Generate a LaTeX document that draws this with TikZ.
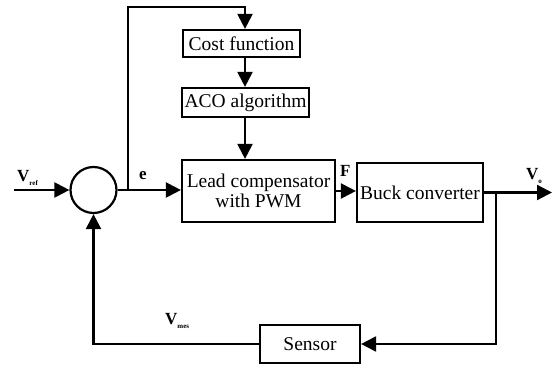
\documentclass[tikz,border=0pt]{standalone}
\usepackage{fontspec}
\setmainfont{Liberation Serif}
\usetikzlibrary{arrows.meta, positioning, calc}
\newcommand{\vsig}[1]{\textbf{V}\raisebox{-0.4ex}{\fontsize{7}{7}\selectfont\bfseries #1}}

\begin{document}
\begin{tikzpicture}[x=1pt, y=-1pt,
  block/.style={draw, line width=2.2pt, inner sep=0pt, font=\fontsize{19.5}{20}\selectfont, align=center},
  sumnode/.style={draw, circle, line width=2.2pt, minimum size=46pt, inner sep=0pt},
  arr/.style={line width=2.2pt, -{Triangle[length=15pt, width=15pt]}},
  lbl/.style={font=\fontsize{17}{17}\selectfont\bfseries, inner sep=0pt}]
  \useasboundingbox (0,0) rectangle (552,366);

  % Summing junction and blocks
  \node[sumnode] (sum) at (93.5,190) {};
  \node[block, minimum width=117pt, minimum height=27pt] (cost) at (241.5,43.5) {Cost function};
  \node[block, minimum width=127pt, minimum height=29pt] (aco) at (245.5,102.5) {ACO algorithm};
  \node[block, minimum width=153pt, minimum height=62pt] (lead) at (258.5,191) {Lead compensator\\with PWM};
  \node[block, minimum width=126pt, minimum height=59pt] (buck) at (420,192.5) {Buck converter};
  \node[block, minimum width=100pt, minimum height=38pt] (sensor) at (310,344) {Sensor};

  % Helper points
  \coordinate (in) at (14,190);
  \coordinate (split) at (127.7,190);
  \coordinate (top) at (127.7,7);
  \coordinate (col) at (245,7);
  \coordinate (tap) at (496,192.5);
  \coordinate (out) at (552,192.5);

  % Forward path
  \draw[arr] (in) -- (sum.west);
  \draw[arr] (sum.east) -- (sum.east -| lead.west);
  \draw[arr] (split) -- (top) -| (cost.north -| col);
  \draw[arr] (cost.south -| col) -- (aco.north -| col);
  \draw[arr] (aco.south -| col) -- (lead.north -| col);
  \draw[arr] (lead.east) -- (lead.east -| buck.west);
  \draw[arr] (buck.east) -- (out);

  % Feedback path
  \draw[arr] (tap) |- (sensor.east);
  \draw[arr] (sensor.west) -| (sum.south);

  % Signal labels
  \node[lbl, anchor=base west] (vreflbl) at (17,182) {\vsig{ref}};
  \node[lbl, anchor=base west] (elbl) at (139,180) {e};
  \node[lbl, anchor=base west] (flbl) at (340,177) {F};
  \node[lbl, anchor=base west] (volbl) at (526,180) {\vsig{o}};
  \node[lbl, anchor=base west] (vmeslbl) at (165,325) {\vsig{mes}};
\end{tikzpicture}
\end{document}
